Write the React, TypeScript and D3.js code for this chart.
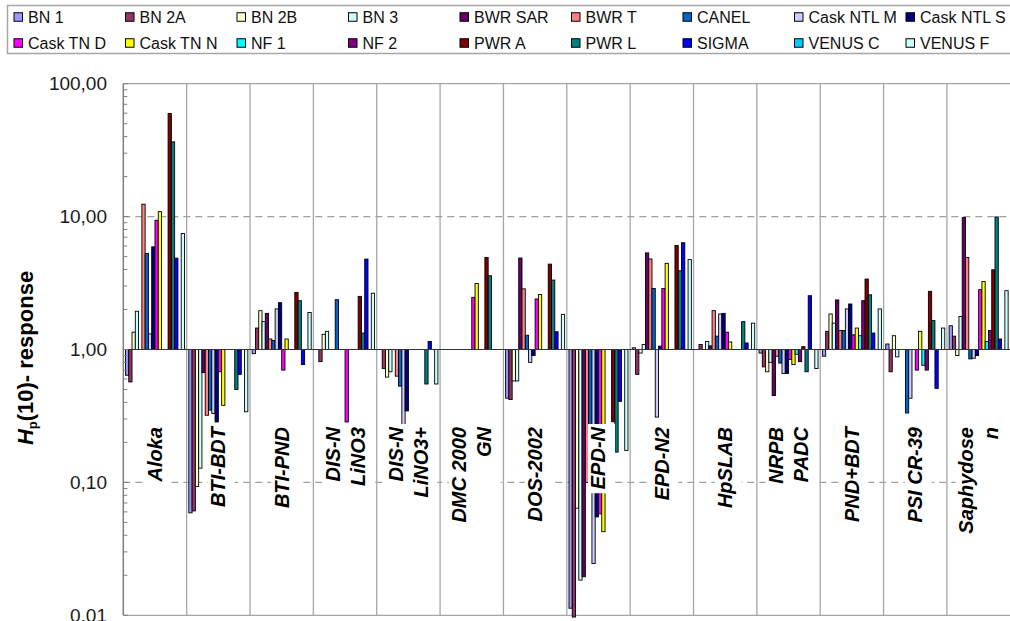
import React, { useEffect, useRef } from "react";
import * as d3 from "d3";

const categories = [
  "Aloka", "BTI-BDT", "BTI-PND", "DIS-N\nLiNO3", "DIS-N\nLiNO3+", "DMC 2000\nGN", "DOS-2002",
  "EPD-N", "EPD-N2", "HpSLAB", "NRPB\nPADC", "PND+BDT", "PSI CR-39", "Saphydose\nn",
];

const N = null;
// values per category (same order as categories); null = no bar
const bn1 = [0.64, 0.059, 0.93, N, N, N, 0.43, 0.0113, 1.03, N, 0.94, 0.89, 1.1, 1.51];
const bn2a = [0.57, 0.061, 1.45, 0.81, 0.72, N, 0.42, 0.0097, 0.65, 1.09, 0.74, 1.37, 0.68, 1.26];
const bn2b = [1.35, 0.093, 1.96, 1.3, 0.62, N, 0.58, 0.064, 0.94, N, 0.68, 1.85, 1.27, 0.9];
const bn3 = [1.94, 0.128, 1.62, 1.37, 0.68, N, 0.58, 0.0184, 1.09, 1.15, 0.8, 1.58, 0.88, 1.77];
const bwrSar = [N, 0.67, 1.87, N, N, N, 4.88, 0.0195, 5.33, 1.065, 0.45, 2.36, N, 9.83];
const bwrT = [12.4, 0.32, 1.2, N, 0.63, N, 2.86, 0.1, 4.8, 1.96, 0.89, 1.39, N, 4.93];
const canel = [5.28, 0.35, 1.17, 2.37, 0.53, N, 1.28, 0.1, 2.88, 1.26, 0.79, 1.39, 0.333, 0.85];
const caskNtlM = [1.31, 0.33, 2.02, N, 0.247, N, 0.8, 0.0245, 0.31, 1.85, 0.66, 2.02, 0.43, 0.86];
const caskNtlS = [5.92, 0.285, 2.25, N, 0.345, N, 0.9, 0.055, 1.06, 1.87, 0.66, 2.2, N, 0.9];
const caskTnD = [9.39, 0.68, 0.7, 0.285, N, 2.47, 2.4, 0.058, 2.88, 1.35, 0.84, 1.29, 0.7, 2.82];
const caskTnN = [10.9, 0.38, 1.2, N, N, 3.14, 2.59, 0.0426, 4.45, 1.14, 0.77, 1.45, 1.37, 3.25];
const nf1 = [N, N, N, N, N, N, N, N, N, N, 0.92, 1.27, 0.76, 1.15];
const nf2 = [N, N, N, N, N, N, N, N, N, N, 0.81, 2.33, 0.7, 1.39];
const pwrA = [59.6, N, 2.69, 2.51, N, 4.93, 4.39, 0.286, 6.07, N, 1.05, 3.39, 2.74, 3.98];
const pwrL = [36.5, 0.5, 2.33, 1.33, 0.55, 3.59, 3.33, 0.169, 3.91, 1.62, 0.68, 2.58, 1.65, 9.94];
const sigma = [4.87, 0.65, 0.77, 4.79, 1.15, N, 1.36, 0.407, 6.36, 1.12, 2.54, 1.33, 0.51, 1.2];
const venusC = [N, N, N, N, N, N, N, N, N, N, N, N, N, N];
const venusF = [7.46, 0.34, 1.9, 2.65, 0.55, N, 1.84, 0.174, 4.75, 1.58, 0.72, 2.02, 1.45, 2.77];

const seriesNames = [
  "BN 1", "BN 2A", "BN 2B", "BN 3", "BWR SAR", "BWR T", "CANEL", "Cask NTL M", "Cask NTL S",
  "Cask TN D", "Cask TN N", "NF 1", "NF 2", "PWR A", "PWR L", "SIGMA", "VENUS C", "VENUS F",
];
const seriesValues = [
  bn1, bn2a, bn2b, bn3, bwrSar, bwrT, canel, caskNtlM, caskNtlS,
  caskTnD, caskTnN, nf1, nf2, pwrA, pwrL, sigma, venusC, venusF,
];
const seriesColors = [
  "#9999FF", "#993366", "#FFFFCC", "#CCFFFF", "#660066", "#FF8080", "#0066CC", "#CCCCFF", "#000080",
  "#FF00FF", "#FFFF00", "#00FFFF", "#800080", "#800000", "#008080", "#0000FF", "#00CCFF", "#CCFFFF",
];

const yTicks = [100, 10, 1, 0.1, 0.01];
const yTickLabels = ["100,00", "10,00", "1,00", "0,10", "0,01"];

const FONT = "'Liberation Sans', Arial, sans-serif";

export default function App() {
  const ref = useRef<SVGSVGElement | null>(null);

  useEffect(() => {
    const svg = d3.select(ref.current);
    svg.selectAll("*").remove();
    const left = 123.3, right = 1010.3, top = 83.7, bottom = 615.3;

    const x = d3.scaleBand<string>().domain(categories).range([left, right]).paddingInner(0).paddingOuter(0);
    const xs = d3.scaleBand<string>().domain(seriesNames).range([0, x.bandwidth()]).paddingInner(0).paddingOuter(0.66);
    const y = d3.scaleLog().domain([0.01, 100]).range([bottom, top]);

    svg.append("rect").attr("width", 1010).attr("height", 621).attr("fill", "#fff");

    // legend
    const lg = svg.append("g");
    lg.append("rect").attr("x", 7.5).attr("y", 5.5).attr("width", 1010).attr("height", 48)
      .attr("fill", "#fff").attr("stroke", "#A6A6A6").attr("stroke-width", 1.5);
    seriesNames.forEach((name, i) => {
      const col = i % 9, row = Math.floor(i / 9);
      const sx = 14 + col * 111.5;
      const cy = row ? 43 : 17;
      lg.append("rect").attr("x", sx).attr("y", cy - 4.25).attr("width", 8.5).attr("height", 8.5)
        .attr("fill", seriesColors[i]).attr("stroke", "#000").attr("stroke-width", 1);
      lg.append("text").attr("x", sx + 14).attr("y", cy).attr("dominant-baseline", "central")
        .attr("font-family", FONT).attr("font-size", 16).attr("fill", "#111").text(name);
    });

    // frame & grid
    const g = svg.append("g");
    g.append("line").attr("x1", left).attr("x2", right).attr("y1", top).attr("y2", top)
      .attr("stroke", "#A6A6A6").attr("stroke-width", 1.3);
    g.append("line").attr("x1", left).attr("x2", right).attr("y1", bottom).attr("y2", bottom)
      .attr("stroke", "#A6A6A6").attr("stroke-width", 1.3);
    [10, 0.1].forEach((v) => {
      g.append("line").attr("x1", left).attr("x2", right).attr("y1", y(v)).attr("y2", y(v))
        .attr("stroke", "#A0A0A0").attr("stroke-width", 1.2).attr("stroke-dasharray", "7,5");
    });
    categories.forEach((c, k) => {
      if (k === 0) return;
      const xx = x(c)!;
      g.append("line").attr("x1", xx).attr("x2", xx).attr("y1", top).attr("y2", bottom)
        .attr("stroke", "#A6A6A6").attr("stroke-width", 1.3);
    });

    // bars
    const y1 = y(1);
    const bg = svg.append("g");
    seriesValues.forEach((vals, si) => {
      vals.forEach((v, ci) => {
        if (v == null) return;
        const yy = y(v);
        bg.append("rect")
          .attr("x", x(categories[ci])! + xs(seriesNames[si])!)
          .attr("width", xs.bandwidth())
          .attr("y", Math.min(yy, y1))
          .attr("height", Math.abs(yy - y1))
          .attr("fill", seriesColors[si]).attr("stroke", "#000").attr("stroke-width", 0.9);
      });
    });

    // baseline at 1
    svg.append("line").attr("x1", left).attr("x2", right).attr("y1", y1).attr("y2", y1)
      .attr("stroke", "#333").attr("stroke-width", 1);

    // category labels with white boxes
    const lgp = svg.append("g");
    categories.forEach((c) => {
      const lines = c.split("\n");
      const n = lines.length;
      const cx = x(c)! + x.bandwidth() / 2;
      const grp = lgp.append("g");
      const box = grp.append("rect").attr("fill", "#fff");
      let maxLen = 0;
      lines.forEach((ln, j) => {
        const bx = cx + (j - (n - 1) / 2) * 25 + 7;
        const t = grp.append("text")
          .attr("transform", `translate(${bx},427) rotate(-90)`)
          .attr("text-anchor", "end")
          .attr("font-family", FONT).attr("font-size", 20).attr("font-weight", "bold")
          .attr("font-style", "italic").attr("fill", "#000").text(ln);
        const len = (t.node() as SVGTextElement).getComputedTextLength();
        maxLen = Math.max(maxLen, len);
      });
      box.attr("x", cx - 12.5 * n + 2).attr("y", 424).attr("width", 25 * n + 2).attr("height", maxLen + 7);
    });

    // y axis
    const ax = svg.append("g");
    ax.append("line").attr("x1", left).attr("x2", left).attr("y1", top).attr("y2", bottom)
      .attr("stroke", "#7f7f7f").attr("stroke-width", 1.5);
    yTicks.forEach((t, i) => {
      ax.append("line").attr("x1", left).attr("x2", left + 5).attr("y1", y(t)).attr("y2", y(t))
        .attr("stroke", "#7f7f7f").attr("stroke-width", 1);
      ax.append("text").attr("x", 107).attr("y", y(t)).attr("text-anchor", "end")
        .attr("dominant-baseline", "central").attr("font-family", FONT).attr("font-size", 19)
        .attr("fill", "#1a1a1a").text(yTickLabels[i]);
    });
    [0.01, 0.1, 1, 10].forEach((d) => {
      for (let m = 2; m <= 9; m++) {
        const yy = y(d * m);
        ax.append("line").attr("x1", left).attr("x2", left + 4).attr("y1", yy).attr("y2", yy)
          .attr("stroke", "#7f7f7f").attr("stroke-width", 1);
      }
    });

    // y title
    const tt = svg.append("text").attr("transform", "translate(33,358) rotate(-90)")
      .attr("text-anchor", "middle").attr("font-family", FONT).attr("font-size", 22)
      .attr("font-weight", "bold").attr("fill", "#000");
    tt.append("tspan").attr("font-style", "italic").text("H");
    tt.append("tspan").attr("font-size", 13).attr("dy", 4).text("p");
    tt.append("tspan").attr("dy", -4).text("(10)- response");
  }, []);

  return (
    <div style={{ position: "absolute", left: 0, top: 0 }}>
      <svg ref={ref} width={1010} height={621} style={{ display: "block" }} />
    </div>
  );
}
